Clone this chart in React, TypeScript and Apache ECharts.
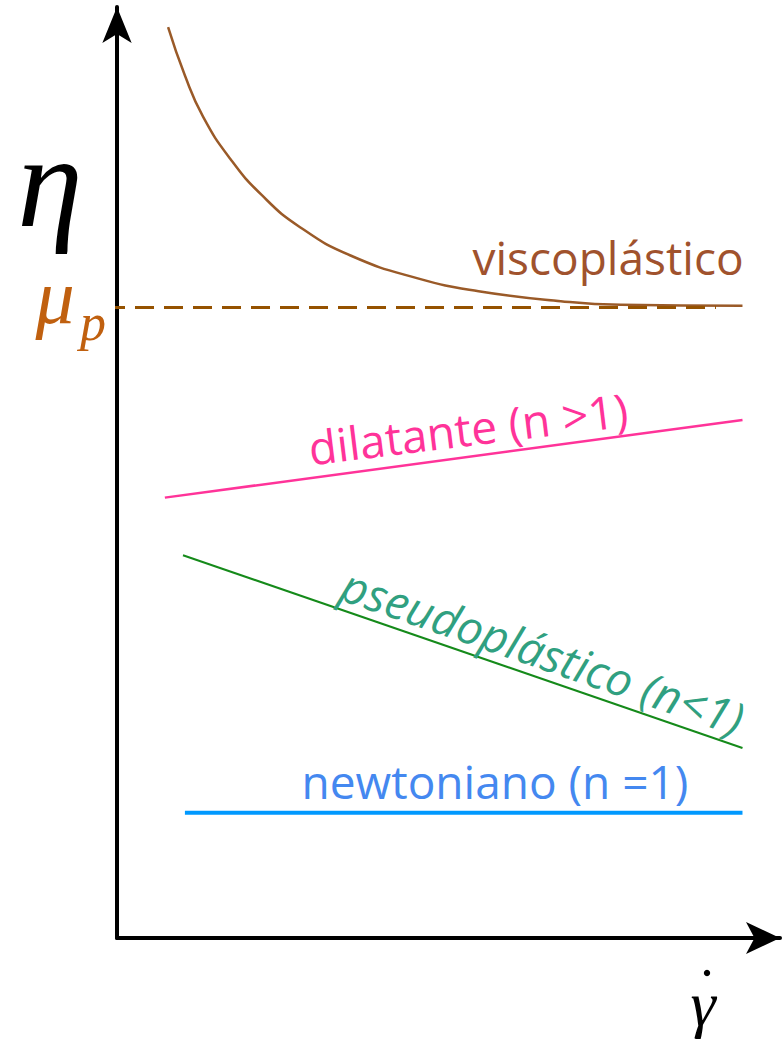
import React, { useEffect, useRef } from "react";
import * as echarts from "echarts";

// Shear rate (x) and apparent viscosity (y), in arbitrary units
const viscoX = [0.79, 1.05, 1.33, 1.75, 2.24, 2.83, 3.61, 4.65, 5.59, 6.86, 7.79, 9.67];
const viscoY = [9.97, 9.44, 8.99, 8.53, 8.13, 7.78, 7.47, 7.22, 7.08, 6.97, 6.93, 6.92];

const muP = 6.9;
const muPX = [-0.17, 9.26];

const dilatanteX = [0.74, 9.67];
const dilatanteY = [4.82, 5.67];

const pseudoX = [1.02, 9.67];
const pseudoY = [4.19, 2.08];

const newtonX = [1.05, 9.67];
const newtonY = [1.37, 1.37];

const seriesNames = ["viscoplástico", "μp", "dilatante (n >1)", "pseudoplástico (n<1)", "newtoniano (n =1)"];

const zip = (xs: number[], ys: number[]) => xs.map((x, i) => [x, ys[i]]);

const SANS = '"Open Sans", "Noto Sans", sans-serif';
const SERIF = '"Liberation Serif", "DejaVu Serif", serif';

const deg = (d: number) => (d * Math.PI) / 180;

function txt(text: string, x: number, y: number, font: string, fill: string, rotation = 0) {
  return {
    type: "text",
    x,
    y,
    rotation,
    z: 10,
    style: {
      text,
      font,
      fill,
      align: "center",
      verticalAlign: "middle",
      textAlign: "center",
      textVerticalAlign: "middle",
    },
  };
}

export default function App() {
  const ref = useRef<HTMLDivElement>(null);

  useEffect(() => {
    if (!ref.current) return;
    const chart = echarts.init(ref.current, null, { renderer: "svg" });

    const axisCommon = {
      type: "value",
      min: 0,
      axisTick: { show: false },
      axisLabel: { show: false },
      splitLine: { show: false },
    };

    chart.setOption({
      animation: false,
      backgroundColor: "#ffffff",
      grid: { left: 117, right: 2, top: 7, bottom: 102 },
      xAxis: {
        ...axisCommon,
        max: 10.25,
        axisLine: {
          show: true,
          symbol: ["none", "arrow"],
          symbolSize: [24, 34],
          lineStyle: { color: "#000", width: 4 },
        },
      },
      yAxis: {
        ...axisCommon,
        max: 10.19,
        axisLine: {
          show: true,
          symbol: ["none", "arrow"],
          symbolSize: [22, 36],
          lineStyle: { color: "#000", width: 4 },
        },
      },
      series: [
        {
          name: seriesNames[0],
          type: "line",
          smooth: 0.5,
          showSymbol: false,
          data: zip(viscoX, viscoY),
          lineStyle: { color: "#9a5a28", width: 2.5 },
        },
        {
          name: seriesNames[1],
          type: "line",
          clip: false,
          showSymbol: false,
          data: muPX.map((x) => [x, muP]),
          lineStyle: { color: "#955200", width: 3, type: [19, 10] },
        },
        {
          name: seriesNames[2],
          type: "line",
          showSymbol: false,
          data: zip(dilatanteX, dilatanteY),
          lineStyle: { color: "#ff3399", width: 2.5 },
        },
        {
          name: seriesNames[3],
          type: "line",
          showSymbol: false,
          data: zip(pseudoX, pseudoY),
          lineStyle: { color: "#158a1a", width: 2 },
        },
        {
          name: seriesNames[4],
          type: "line",
          showSymbol: false,
          data: zip(newtonX, newtonY),
          lineStyle: { color: "#0099ff", width: 4 },
        },
      ],
      graphic: [
        txt("η", 50, 181, `italic 132px ${SERIF}`, "#000000"),
        txt("μ", 55, 296, `italic 78px ${SERIF}`, "#c0600f"),
        txt("p", 93, 322, `italic 52px ${SERIF}`, "#c0600f"),
        txt("γ", 703, 1003, `italic 64px ${SERIF}`, "#000000"),
        { type: "circle", z: 10, shape: { cx: 707, cy: 973, r: 3.2 }, style: { fill: "#000000" } },
        txt(seriesNames[0], 608, 257, `46px ${SANS}`, "#a0522d"),
        txt(seriesNames[2], 468, 428, `46px ${SANS}`, "#ff3399", deg(7)),
        txt(seriesNames[3], 543, 651, `italic 46px ${SANS}`, "#30a080", deg(-19)),
        txt(seriesNames[4], 495, 781, `46px ${SANS}`, "#4488f0"),
      ],
    });

    return () => chart.dispose();
  }, []);

  return (
    <div
      ref={ref}
      style={{ position: "absolute", left: 0, top: 0, width: 782, height: 1040 }}
    />
  );
}
